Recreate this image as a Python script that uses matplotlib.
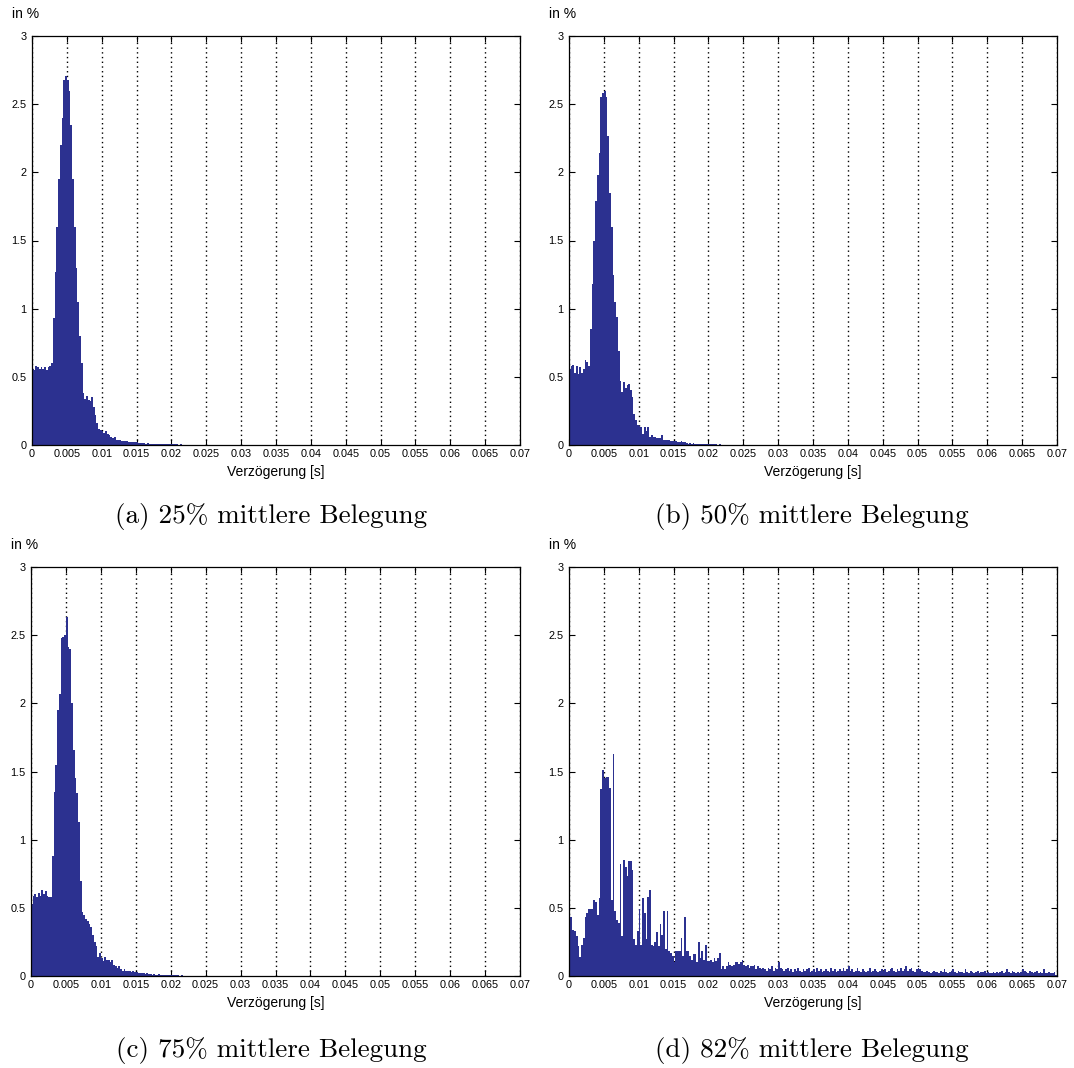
import numpy as np
import matplotlib
matplotlib.use("Agg")
import matplotlib.pyplot as plt

# ---------------- data ----------------
bin_width = 0.00025  # s

a_vals = [
    0.56, 0.55, 0.58, 0.57, 0.56, 0.57, 0.56, 0.57, 0.55, 0.57, 0.58, 0.60,
    0.93, 1.27, 1.60, 1.95, 2.20, 2.40, 2.68, 2.71, 2.68, 2.60,
    2.35, 1.95, 1.60, 1.30, 1.05, 0.80, 0.60, 0.38,
    0.34, 0.36, 0.33, 0.32, 0.35, 0.28, 0.22, 0.16, 0.12, 0.11,
    0.10, 0.09, 0.10, 0.08, 0.07, 0.06, 0.05, 0.06, 0.04, 0.04,
    0.04, 0.03, 0.03, 0.03, 0.03, 0.025, 0.02, 0.025, 0.02, 0.02,
    0.02, 0.015, 0.015, 0.012, 0.012, 0.01, 0.012, 0.01, 0.01, 0.008,
    0.01, 0.008, 0.008, 0.007, 0.006, 0.007, 0.006, 0.005, 0.006, 0.005,
    0.005, 0.004, 0.005, 0.004, 0.003, 0.004, 0.003, 0.003, 0.002, 0.003,
    0.002, 0.002, 0.003, 0.002, 0.002, 0.001, 0.002, 0.001, 0.002, 0.001,
    0.001, 0.002, 0.001, 0.001, 0.001,
]

b_vals = [
    0.56, 0.58, 0.59, 0.53, 0.58, 0.52, 0.57, 0.53, 0.56, 0.62, 0.61, 0.58,
    0.85, 1.18, 1.50, 1.79, 1.98, 2.14, 2.55, 2.58, 2.60, 2.55,
    2.27, 1.85, 1.60, 1.25, 1.05, 0.94, 0.69, 0.47,
    0.39, 0.46, 0.42, 0.44, 0.45, 0.40, 0.35, 0.23, 0.18, 0.15,
    0.14, 0.13, 0.08, 0.13, 0.10, 0.13, 0.06, 0.07, 0.06, 0.06,
    0.05, 0.05, 0.05, 0.07, 0.04, 0.04, 0.04, 0.035, 0.03, 0.03,
    0.03, 0.03, 0.025, 0.025, 0.03, 0.02, 0.02, 0.015, 0.01, 0.012,
    0.01, 0.012, 0.01, 0.01, 0.008, 0.01, 0.008, 0.007, 0.006, 0.006,
    0.005, 0.005, 0.004, 0.005, 0.004, 0.003, 0.004, 0.003, 0.003, 0.003,
    0.002, 0.003, 0.002, 0.002, 0.002, 0.001, 0.002, 0.001, 0.002, 0.001,
    0.001, 0.001, 0.002, 0.001, 0.001,
]

c_vals = [
    0.53, 0.59, 0.60, 0.58, 0.61, 0.59, 0.63, 0.60, 0.62, 0.59, 0.58, 0.58,
    0.88, 1.35, 1.55, 1.95, 2.07, 2.48, 2.49, 2.50, 2.63, 2.41,
    2.40, 2.00, 1.66, 1.45, 1.34, 1.13, 0.70, 0.47,
    0.45, 0.42, 0.40, 0.38, 0.36, 0.30, 0.25, 0.22, 0.14, 0.17,
    0.13, 0.11, 0.14, 0.12, 0.12, 0.10, 0.12, 0.08, 0.07, 0.06,
    0.07, 0.05, 0.04, 0.05, 0.04, 0.035, 0.04, 0.03, 0.035, 0.03,
    0.03, 0.02, 0.025, 0.02, 0.02, 0.015, 0.02, 0.012, 0.012, 0.01,
    0.012, 0.01, 0.01, 0.012, 0.008, 0.01, 0.008, 0.008, 0.007, 0.008,
    0.005, 0.006, 0.004, 0.005, 0.004, 0.003, 0.004, 0.003, 0.003, 0.002,
    0.003, 0.002, 0.002, 0.002, 0.001, 0.002, 0.001, 0.001, 0.002, 0.001,
    0.001, 0.001, 0.001, 0.001, 0.001,
]

d_vals = [
    0.43, 0.43, 0.34, 0.33, 0.29, 0.22, 0.14, 0.23, 0.28, 0.43,
    0.46, 0.49, 0.49, 0.49, 0.56, 0.54, 0.45, 0.57, 1.37, 1.51,
    1.45, 1.46, 1.46, 1.38, 0.56, 1.63, 0.48, 0.41, 0.39, 0.82,
    0.29, 0.85, 0.80, 0.73, 0.84, 0.84, 0.78, 0.27, 0.23, 0.33,
    0.49, 0.23, 0.57, 0.46, 0.27, 0.58, 0.63, 0.23, 0.22, 0.25,
    0.32, 0.22, 0.38, 0.30, 0.48, 0.20, 0.48, 0.18, 0.17, 0.15,
    0.10, 0.18, 0.18, 0.18, 0.28, 0.15, 0.43, 0.18, 0.18, 0.15,
    0.12, 0.16, 0.16, 0.10, 0.25, 0.13, 0.18, 0.12, 0.23, 0.11,
    0.11, 0.12, 0.10, 0.13, 0.11, 0.13, 0.17, 0.05, 0.07, 0.05,
    0.07, 0.10, 0.08, 0.07, 0.08, 0.10, 0.10, 0.09, 0.10, 0.12,
    0.08, 0.07, 0.08, 0.06, 0.07, 0.07, 0.08, 0.05, 0.07, 0.06,
    0.05, 0.06, 0.05, 0.04, 0.06, 0.05, 0.07, 0.04, 0.06, 0.05,
    0.10, 0.06, 0.05, 0.04, 0.05, 0.06, 0.04, 0.05, 0.03, 0.05,
    0.04, 0.06, 0.04, 0.03, 0.05, 0.04, 0.05, 0.06, 0.03, 0.04,
    0.05, 0.03, 0.06, 0.04, 0.05, 0.03, 0.04, 0.05, 0.04, 0.03,
    0.06, 0.04, 0.05, 0.03, 0.04, 0.05, 0.04, 0.06, 0.04, 0.05,
    0.07, 0.04, 0.05, 0.03, 0.04, 0.06, 0.04, 0.03, 0.05, 0.04,
    0.03, 0.04, 0.06, 0.03, 0.04, 0.05, 0.04, 0.03, 0.04, 0.05,
    0.04, 0.05, 0.03, 0.04, 0.05, 0.06, 0.04, 0.03, 0.05, 0.04,
    0.06, 0.04, 0.05, 0.07, 0.04, 0.05, 0.06, 0.04, 0.03, 0.05,
    0.06, 0.05, 0.04, 0.03, 0.03, 0.04, 0.03, 0.02, 0.03, 0.04,
    0.03, 0.03, 0.02, 0.04, 0.03, 0.05, 0.03, 0.02, 0.03, 0.04,
    0.05, 0.03, 0.02, 0.04, 0.03, 0.03, 0.02, 0.05, 0.03, 0.02,
    0.04, 0.03, 0.02, 0.03, 0.04, 0.02, 0.03, 0.03, 0.04, 0.02,
    0.03, 0.02, 0.02, 0.03, 0.02, 0.03, 0.02, 0.03, 0.04, 0.02,
    0.03, 0.05, 0.03, 0.02, 0.04, 0.03, 0.02, 0.03, 0.02, 0.03,
    0.05, 0.04, 0.03, 0.02, 0.04, 0.03, 0.02, 0.03, 0.04, 0.02,
    0.03, 0.02, 0.05, 0.02, 0.02, 0.03, 0.02, 0.02, 0.03, 0.01,
]

x_ticks = [0, 0.005, 0.01, 0.015, 0.02, 0.025, 0.03, 0.035,
           0.04, 0.045, 0.05, 0.055, 0.06, 0.065, 0.07]
x_ticklabels = ["0", "0.005", "0.01", "0.015", "0.02", "0.025", "0.03", "0.035",
                "0.04", "0.045", "0.05", "0.055", "0.06", "0.065", "0.07"]
y_ticks = [0, 0.5, 1, 1.5, 2, 2.5, 3]
y_ticklabels = ["0", "0.5", "1", "1.5", "2", "2.5", "3"]

captions = ["(a) 25% mittlere Belegung", "(b) 50% mittlere Belegung",
            "(c) 75% mittlere Belegung", "(d) 82% mittlere Belegung"]
series = [a_vals, b_vals, c_vals, d_vals]

# ---------------- style ----------------
BAR = "#2C3190"
SANS = ["Liberation Sans", "DejaVu Sans"]
plt.rcParams["font.family"] = SANS

W, H = 1074, 1068
fig = plt.figure(figsize=(W / 100, H / 100), dpi=100)

# axes boxes in pixels: left, top, right, bottom
boxes = [(32, 36, 520, 445), (569, 36, 1057, 445),
         (31, 567, 520, 976), (569, 567, 1057, 976)]
cap_pos = [(271, 517), (812, 517), (271, 1050), (812, 1050)]

for vals, box, cap, cp in zip(series, boxes, captions, cap_pos):
    l, t, r, b = box
    ax = fig.add_axes([l / W, 1 - b / H, (r - l) / W, (b - t) / H])
    edges = np.arange(len(vals) + 1) * bin_width
    ax.stairs(vals, edges, fill=True, color=BAR, linewidth=0)
    ax.set_xlim(0, 0.07)
    ax.set_ylim(0, 3)
    ax.set_xticks(x_ticks)
    ax.set_xticklabels(x_ticklabels)
    ax.set_yticks(y_ticks)
    ax.set_yticklabels(y_ticklabels)
    ax.tick_params(direction="in", length=4, width=0.8, labelsize=7.8,
                   top=True, right=True, pad=3)
    ax.tick_params(axis="y", pad=4)
    ax.set_axisbelow(True)
    ax.grid(axis="x", color="black", linestyle=(0, (1, 2.4)), linewidth=1.0)
    ax.grid(axis="y", visible=False)
    for s in ax.spines.values():
        s.set_linewidth(0.9)
        s.set_color("black")
    ax.set_xlabel("Verzögerung [s]", fontsize=10, labelpad=4)
    ax.annotate("in %", xy=(0, 1), xycoords="axes fraction",
                xytext=(-14.5, 10.5), textcoords="offset points",
                fontsize=10, ha="left", va="bottom")
    fig.text(cp[0] / W, 1 - cp[1] / H, cap, fontsize=19.5,
             family=["cmr10", "DejaVu Serif"], ha="center", va="center")

fig.savefig("out.png", dpi=100)
